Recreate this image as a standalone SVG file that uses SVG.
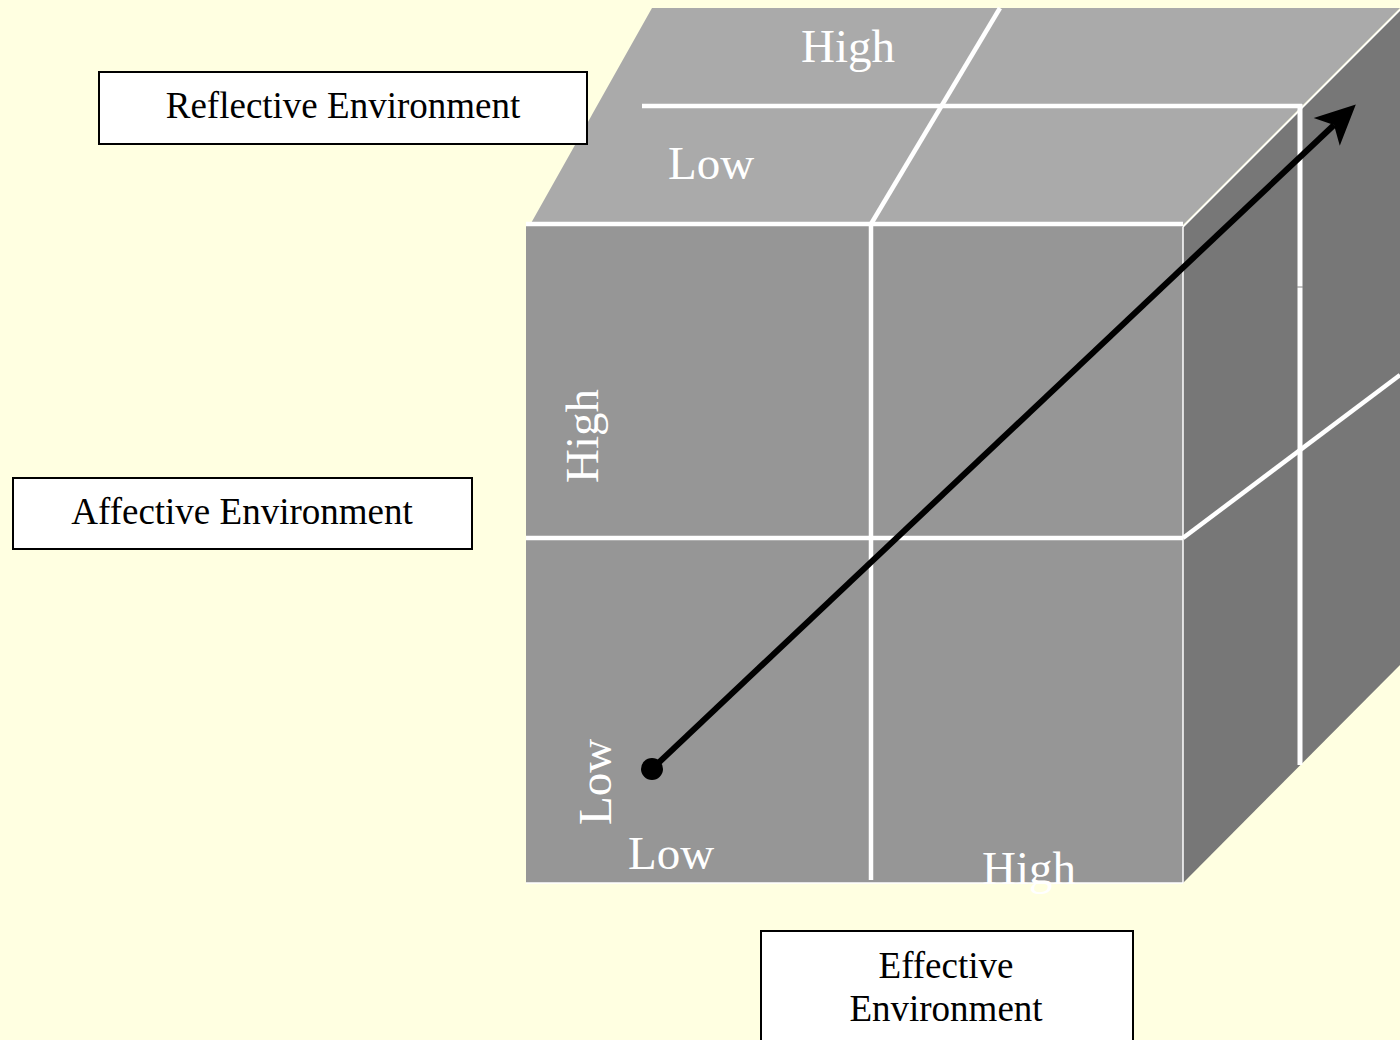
<svg xmlns="http://www.w3.org/2000/svg" width="1400" height="1040" viewBox="0 0 1400 1040">
  <style>
    .bg { fill: #FFFFE1; }
    .front { fill: #969696; }
    .top { fill: #AAAAAA; }
    .side { fill: #777777; }
    .grid { stroke: #FFFFFF; stroke-width: 4.5; fill: none; }
    .thin { stroke: #FFFFFF; stroke-width: 1.5; fill: none; }
    .cubetext { font-family: "Liberation Serif", "Times New Roman", serif; font-size: 47px; fill: #FFFFFF; }
    .box { fill: #FFFFFF; stroke: #000000; stroke-width: 2; }
    .boxtext { font-family: "Liberation Serif", "Times New Roman", serif; font-size: 37px; fill: #000000; text-anchor: middle; }
    .arrow { stroke: #000000; stroke-width: 6; fill: none; }
  </style>
  <defs>
    <marker id="head" markerUnits="userSpaceOnUse" viewBox="-15 -25 50 50" markerWidth="50" markerHeight="50" refX="0" refY="0" orient="auto">
      <polygon points="30,0 -10,-19 0,0 -10,19" fill="#000000"/>
    </marker>
  </defs>
  <rect class="bg" x="0" y="0" width="1400" height="1040"/>

  <g id="cube">
    <polygon class="side" points="1183,227 1400,10 1400,665 1183,883"/>
    <polygon class="top" points="652,8 1400,8 1183,225 530,225"/>
    <rect class="front" x="526" y="226" width="657" height="657"/>
    <line class="grid" x1="642" y1="106" x2="1302" y2="106"/>
    <line class="grid" x1="1000" y1="8" x2="871" y2="224"/>
    <line class="grid" x1="526" y1="224" x2="1183" y2="224"/>
    <line class="grid" x1="871" y1="224" x2="871" y2="880"/>
    <line class="grid" x1="526" y1="538" x2="1183" y2="538"/>
    <line class="thin" x1="1183" y1="227" x2="1183" y2="883"/>
    <line class="thin" x1="1183" y1="227" x2="1400" y2="10"/>
    <line class="thin" x1="526" y1="883" x2="1183" y2="883"/>
    <line class="grid" x1="1300" y1="104" x2="1300" y2="765" style="stroke-width:5"/>
    <line class="grid" x1="1183" y1="538" x2="1400" y2="375"/>
    <line x1="1297" y1="287" x2="1303" y2="287" stroke="#888888" stroke-width="1"/>
  </g>

  <g id="cube-labels">
    <text class="cubetext" x="848" y="62" text-anchor="middle">High</text>
    <text class="cubetext" x="711" y="179" text-anchor="middle">Low</text>
    <text class="cubetext" x="671" y="869" text-anchor="middle">Low</text>
    <text class="cubetext" x="1029" y="884" text-anchor="middle">High</text>
    <text class="cubetext" text-anchor="middle" transform="translate(598,436) rotate(-90)">High</text>
    <text class="cubetext" text-anchor="middle" transform="translate(611,782) rotate(-90)">Low</text>
  </g>

  <g id="connectors">
    <line class="arrow" x1="652" y1="769" x2="1334" y2="125" marker-end="url(#head)"/>
    <circle cx="652" cy="769" r="11" fill="#000000"/>
  </g>

  <g id="reflective">
    <rect class="box" x="99" y="72" width="488" height="72"/>
    <text class="boxtext" x="343" y="118">Reflective Environment</text>
  </g>
  <g id="affective">
    <rect class="box" x="13" y="478" width="459" height="71"/>
    <text class="boxtext" x="242" y="524">Affective Environment</text>
  </g>
  <g id="effective">
    <rect class="box" x="761" y="931" width="372" height="120"/>
    <text class="boxtext" x="946" y="978">Effective</text>
    <text class="boxtext" x="946" y="1021">Environment</text>
  </g>
</svg>
